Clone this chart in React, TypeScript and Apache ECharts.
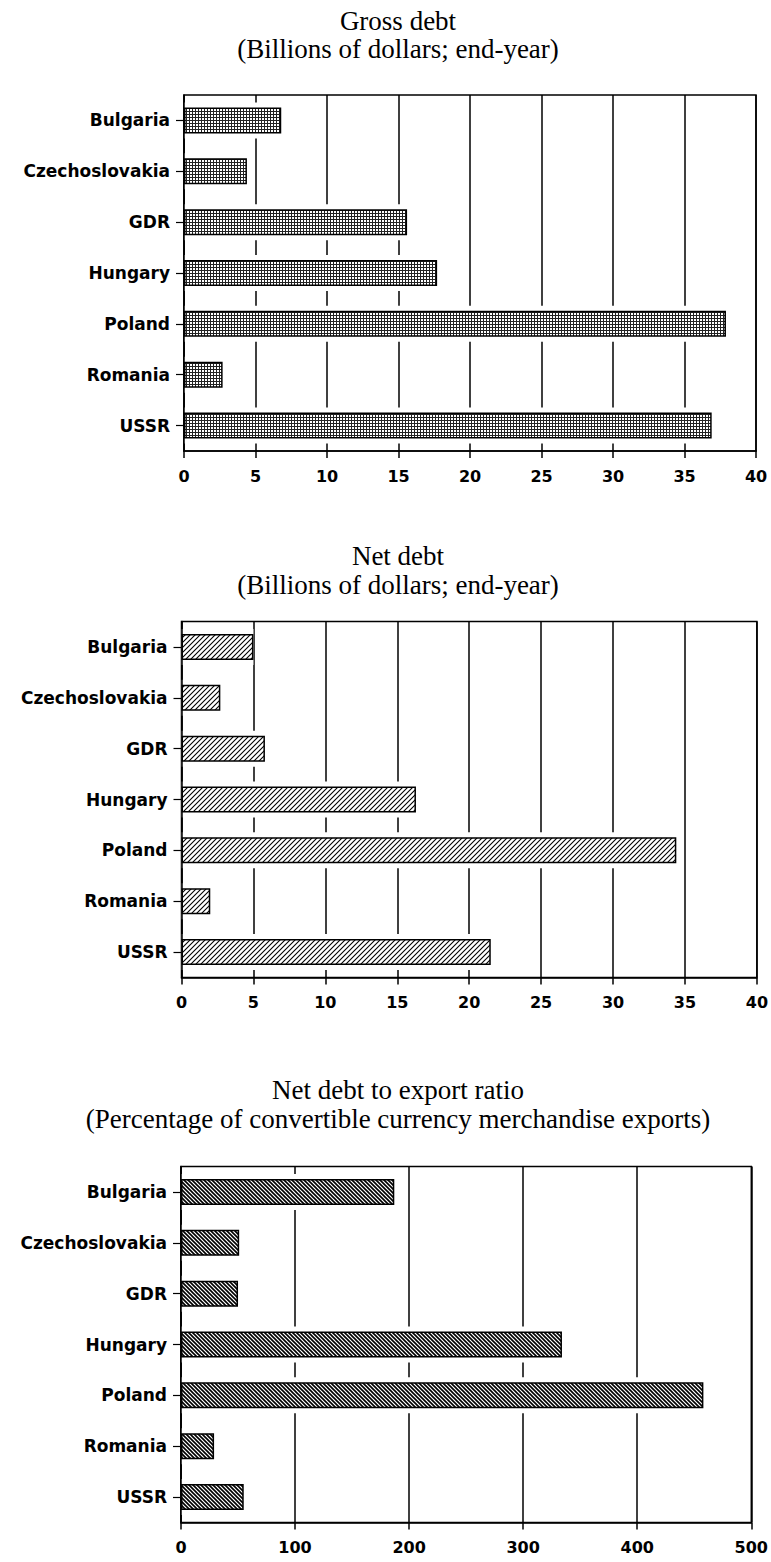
import React, { useEffect, useRef } from 'react';
import * as echarts from 'echarts';

const categories = ['Bulgaria', 'Czechoslovakia', 'GDR', 'Hungary', 'Poland', 'Romania', 'USSR'];
const grossDebt = [6.8, 4.4, 15.6, 17.7, 37.9, 2.7, 36.9];
const netDebt = [5.0, 2.7, 5.8, 16.3, 34.4, 2.0, 21.5];
const netDebtToExports = [187, 51, 50, 334, 458, 29, 55];

const titles = ['Gross debt', 'Net debt', 'Net debt to export ratio'];
const subtitles = [
  '(Billions of dollars; end-year)',
  '(Billions of dollars; end-year)',
  '(Percentage of convertible currency merchandise exports)',
];
const axisMax = [40, 40, 500];
const axisInterval = [5, 5, 100];

function makePattern(kind: string) {
  const c = document.createElement('canvas');
  let size = 3;
  if (kind === 'dots') size = 3;
  if (kind === 'hatchLight') size = 5;
  if (kind === 'hatchDense') size = 4;
  c.width = size;
  c.height = size;
  const ctx = c.getContext('2d')!;
  ctx.fillStyle = '#fff';
  ctx.fillRect(0, 0, size, size);
  ctx.fillStyle = '#000';
  ctx.strokeStyle = '#000';
  if (kind === 'dots') {
    ctx.fillStyle = '#222';
    ctx.fillRect(0, 0, 3, 1);
    ctx.fillRect(0, 0, 1, 3);
  } else if (kind === 'hatchLight') {
    ctx.lineWidth = 1.1;
    ctx.beginPath();
    ctx.moveTo(0, 5); ctx.lineTo(5, 0);
    ctx.moveTo(-1, 1); ctx.lineTo(1, -1);
    ctx.moveTo(4, 6); ctx.lineTo(6, 4);
    ctx.stroke();
  } else {
    ctx.lineWidth = 1.6;
    ctx.beginPath();
    ctx.moveTo(0, 0); ctx.lineTo(4, 4);
    ctx.moveTo(3, -1); ctx.lineTo(5, 1);
    ctx.moveTo(-1, 3); ctx.lineTo(1, 5);
    ctx.stroke();
  }
  return { image: c, repeat: 'repeat', imageWidth: size, imageHeight: size } as any;
}

export default function App() {
  const ref = useRef<HTMLDivElement>(null);
  useEffect(() => {
    if (!ref.current) return;
    const chart = echarts.init(ref.current, undefined, { renderer: 'svg' });
    const patterns = [makePattern('dots'), makePattern('hatchLight'), makePattern('hatchDense')];
    const values = [grossDebt, netDebt, netDebtToExports];
    const grids = [
      { left: 184, top: 95, width: 572, height: 356 },
      { left: 181.5, top: 621.5, width: 577, height: 356 },
      { left: 181, top: 1166.5, width: 576, height: 356 },
    ];
    const titleY = [
      [21, 49],
      [556, 585],
      [1090, 1119],
    ];
    const labelFont = { color: '#000', fontFamily: 'DejaVu Sans', fontWeight: 'bold' as const };
    const blackLine = { color: '#000', width: 1.5 };

    const xAxis: any[] = [];
    const yAxis: any[] = [];
    const series: any[] = [];
    const graphic: any[] = [];

    grids.forEach((g, i) => {
      xAxis.push({
        type: 'value',
        gridIndex: i,
        min: 0,
        max: axisMax[i],
        interval: axisInterval[i],
        z: 0,
        axisLine: { show: true, lineStyle: blackLine },
        axisTick: { show: true, length: 7, lineStyle: blackLine },
        axisLabel: { ...labelFont, fontSize: 16, margin: 17 },
        splitLine: { show: true, lineStyle: blackLine },
      });
      yAxis.push({
        type: 'category',
        gridIndex: i,
        data: categories,
        inverse: true,
        z: 5,
        axisLine: { show: true, lineStyle: blackLine },
        axisTick: { show: true, alignWithLabel: true, length: 8, lineStyle: { color: '#000', width: 1.2 } },
        axisLabel: { ...labelFont, fontSize: 17, margin: 14 },
        splitLine: { show: false },
      });
      yAxis.push({
        type: 'category',
        gridIndex: i,
        data: categories,
        inverse: true,
        show: false,
      });
      series.push({
        type: 'bar',
        xAxisIndex: i,
        yAxisIndex: 2 * i + 1,
        data: values[i],
        barWidth: 36,
        silent: true,
        z: 2,
        itemStyle: { color: '#fff' },
      });
      series.push({
        type: 'bar',
        name: titles[i],
        xAxisIndex: i,
        yAxisIndex: 2 * i,
        data: values[i],
        barWidth: 26,
        z: 3,
        itemStyle: { color: patterns[i], borderColor: '#000', borderWidth: 1.5 },
      });
      graphic.push({
        type: 'text',
        x: 398,
        y: titleY[i][0],
        style: {
          text: titles[i],
          font: '27px "Liberation Serif", "Times New Roman", serif',
          fill: '#000',
          textAlign: 'center',
          textVerticalAlign: 'middle',
        },
      });
      graphic.push({
        type: 'text',
        x: 398,
        y: titleY[i][1],
        style: {
          text: subtitles[i],
          font: '27px "Liberation Serif", "Times New Roman", serif',
          fill: '#000',
          textAlign: 'center',
          textVerticalAlign: 'middle',
        },
      });
    });

    chart.setOption({
      animation: false,
      backgroundColor: '#fff',
      grid: grids.map((g) => ({ ...g, show: true, borderColor: '#000', borderWidth: 1.5, containLabel: false })),
      xAxis,
      yAxis,
      series,
      graphic,
    });
    return () => chart.dispose();
  }, []);
  return <div ref={ref} style={{ position: 'absolute', left: 0, top: 0, width: 771, height: 1562 }} />;
}
